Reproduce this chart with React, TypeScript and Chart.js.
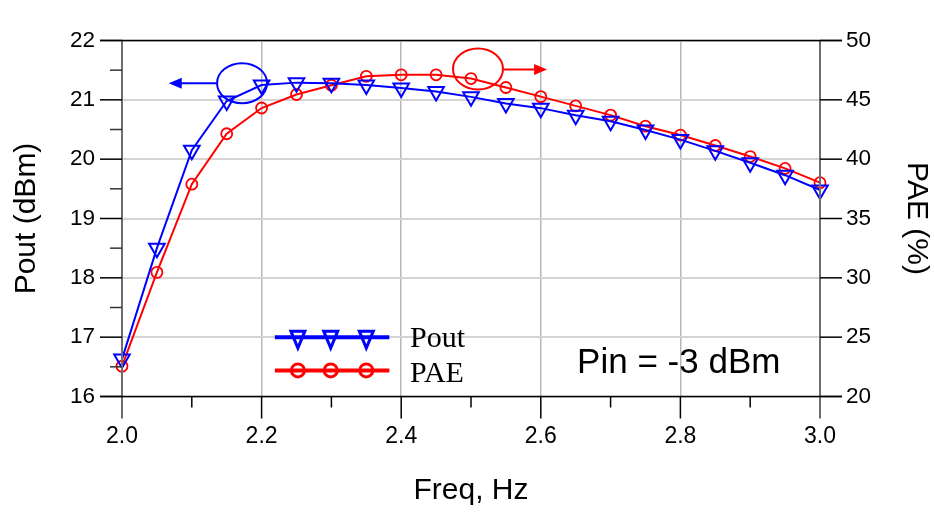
import React, { useEffect, useRef } from 'react';
import { Chart, registerables } from 'chart.js';

Chart.register(...registerables);

const FREQ = [2.0, 2.05, 2.1, 2.15, 2.2, 2.25, 2.3, 2.35, 2.4, 2.45, 2.5, 2.55, 2.6, 2.65, 2.7, 2.75, 2.8, 2.85, 2.9, 2.95, 3.0];
const POUT = [16.63, 18.5, 20.15, 20.98, 21.25, 21.29, 21.28, 21.25, 21.2, 21.14, 21.05, 20.94, 20.86, 20.74, 20.64, 20.49, 20.33, 20.14, 19.94, 19.73, 19.48];
const PAE = [22.55, 30.46, 37.89, 42.14, 44.31, 45.45, 46.23, 46.98, 47.11, 47.11, 46.79, 46.04, 45.27, 44.49, 43.71, 42.78, 42.03, 41.15, 40.22, 39.22, 38.02];

const SANS = '"Liberation Sans", Arial, sans-serif';
const SERIF = '"Liberation Serif", "Times New Roman", serif';

const BLUE = '#0000ff';
const RED = '#ff0000';

// annotation anchors in data coordinates
const ANNOT = {
  blueEllipse: { x: 2.172, y: 21.28, rx: 25, ry: 20 },
  blueArrow: { x0: 2.136, x1: 2.067, y: 21.28 },
  redEllipse: { x: 2.51, y: 47.6, rx: 25, ry: 20.5 },
  redArrow: { x0: 2.546, x1: 2.609, y: 47.56 },
  legend: { x0: 2.219, x1: 2.383, marks: [2.252, 2.299, 2.35], yPout: 17.0, yPae: 16.44, textX: 2.4126, textPout: 16.83, textPae: 16.25 },
  pin: { x: 2.652, y: 16.4, text: 'Pin = -3 dBm' },
};

function line(ctx: CanvasRenderingContext2D, x0: number, y0: number, x1: number, y1: number) {
  ctx.beginPath();
  ctx.moveTo(x0, y0);
  ctx.lineTo(x1, y1);
  ctx.stroke();
}

function arrowHead(ctx: CanvasRenderingContext2D, tipX: number, y: number, dir: number, color: string) {
  ctx.fillStyle = color;
  ctx.beginPath();
  ctx.moveTo(tipX, y);
  ctx.lineTo(tipX - dir * 13, y - 5.5);
  ctx.lineTo(tipX - dir * 13, y + 5.5);
  ctx.closePath();
  ctx.fill();
}

const decorPlugin = {
  id: 'decor',
  afterDraw(chart: any) {
    const { ctx, chartArea, scales } = chart;
    const { left, right, top, bottom } = chartArea;
    const x = scales.x, y = scales.y, y1 = scales.y1;
    ctx.save();
    ctx.lineCap = 'butt';
    // axis lines
    ctx.strokeStyle = '#6e6e6e';
    ctx.lineWidth = 2;
    line(ctx, left, top, left, bottom + 22);
    line(ctx, right, top, right, bottom + 22);
    // borders
    ctx.strokeStyle = '#000';
    ctx.lineWidth = 1.5;
    line(ctx, left - 22, top, right + 22, top);
    line(ctx, left - 22, bottom, right + 22, bottom);
    // left ticks
    for (let v = 16; v <= 22.001; v += 0.5) {
      const py = y.getPixelForValue(v);
      const major = Math.abs(v - Math.round(v)) < 1e-6;
      ctx.strokeStyle = major ? '#000' : '#333';
      line(ctx, left - (major ? 22 : 12), py, left, py);
    }
    // right ticks
    for (let v = 20; v <= 50.001; v += 5) {
      const py = y1.getPixelForValue(v);
      ctx.strokeStyle = '#000';
      line(ctx, right, py, right + 22, py);
    }
    // x ticks
    for (let i = 1; i < 10; i++) {
      const v = 2 + i * 0.1;
      const px = x.getPixelForValue(v);
      const major = i % 2 === 0;
      ctx.strokeStyle = '#000';
      line(ctx, px, bottom, px, bottom + (major ? 22 : 11));
    }

    // annotations
    ctx.lineWidth = 2;
    const be = ANNOT.blueEllipse;
    ctx.strokeStyle = BLUE;
    ctx.beginPath();
    ctx.ellipse(x.getPixelForValue(be.x), y.getPixelForValue(be.y), be.rx, be.ry, 0, 0, Math.PI * 2);
    ctx.stroke();
    const ba = ANNOT.blueArrow;
    const bay = y.getPixelForValue(ba.y);
    line(ctx, x.getPixelForValue(ba.x0), bay, x.getPixelForValue(ba.x1) + 8, bay);
    arrowHead(ctx, x.getPixelForValue(ba.x1), bay, -1, BLUE);

    const re = ANNOT.redEllipse;
    ctx.strokeStyle = RED;
    ctx.beginPath();
    ctx.ellipse(x.getPixelForValue(re.x), y1.getPixelForValue(re.y), re.rx, re.ry, 0, 0, Math.PI * 2);
    ctx.stroke();
    const ra = ANNOT.redArrow;
    const ray = y1.getPixelForValue(ra.y);
    line(ctx, x.getPixelForValue(ra.x0), ray, x.getPixelForValue(ra.x1) - 8, ray);
    arrowHead(ctx, x.getPixelForValue(ra.x1), ray, 1, RED);

    // legend
    const lg = ANNOT.legend;
    const lx0 = x.getPixelForValue(lg.x0), lx1 = x.getPixelForValue(lg.x1);
    const lyP = y.getPixelForValue(lg.yPout), lyA = y.getPixelForValue(lg.yPae);
    ctx.lineWidth = 4;
    ctx.strokeStyle = BLUE;
    line(ctx, lx0, lyP, lx1, lyP);
    ctx.strokeStyle = RED;
    line(ctx, lx0, lyA, lx1, lyA);
    ctx.lineWidth = 3;
    for (const m of lg.marks) {
      const mx = x.getPixelForValue(m);
      ctx.strokeStyle = BLUE;
      ctx.beginPath();
      ctx.moveTo(mx - 7, lyP - 6);
      ctx.lineTo(mx + 7, lyP - 6);
      ctx.lineTo(mx, lyP + 11);
      ctx.closePath();
      ctx.stroke();
      ctx.strokeStyle = RED;
      ctx.beginPath();
      ctx.arc(mx, lyA, 6.5, 0, Math.PI * 2);
      ctx.stroke();
    }
    ctx.fillStyle = '#000';
    ctx.font = `30px ${SERIF}`;
    ctx.textAlign = 'left';
    ctx.textBaseline = 'alphabetic';
    ctx.fillText('Pout', x.getPixelForValue(lg.textX), y.getPixelForValue(lg.textPout));
    ctx.fillText('PAE', x.getPixelForValue(lg.textX), y.getPixelForValue(lg.textPae));

    ctx.font = `35px ${SANS}`;
    ctx.fillText(ANNOT.pin.text, x.getPixelForValue(ANNOT.pin.x), y.getPixelForValue(ANNOT.pin.y));
    ctx.restore();
  },
};

export default function App() {
  const ref = useRef<HTMLCanvasElement | null>(null);
  useEffect(() => {
    if (!ref.current) return;
    const chart = new Chart(ref.current, {
      type: 'line',
      data: {
        datasets: [
          {
            label: 'Pout',
            data: FREQ.map((f, i) => ({ x: f, y: POUT[i] })),
            yAxisID: 'y',
            borderColor: BLUE,
            borderWidth: 2,
            pointStyle: 'triangle',
            rotation: 180,
            pointRadius: 9,
            pointBorderWidth: 2,
            pointBorderColor: BLUE,
            pointBackgroundColor: 'rgba(0,0,0,0)',
            clip: false,
          } as any,
          {
            label: 'PAE',
            data: FREQ.map((f, i) => ({ x: f, y: PAE[i] })),
            yAxisID: 'y1',
            borderColor: RED,
            borderWidth: 2,
            pointStyle: 'circle',
            pointRadius: 5.5,
            pointBorderWidth: 1.8,
            pointBorderColor: RED,
            pointBackgroundColor: 'rgba(0,0,0,0)',
            clip: false,
          } as any,
        ],
      },
      options: {
        animation: false,
        responsive: false,
        maintainAspectRatio: false,
        layout: { padding: { top: 22, left: 0, right: 0, bottom: 0 } },
        plugins: { legend: { display: false }, tooltip: { enabled: false } },
        scales: {
          x: {
            type: 'linear',
            min: 2,
            max: 3,
            ticks: {
              stepSize: 0.2,
              callback: (v: any) => Number(v).toFixed(1),
              font: { family: SANS, size: 23 },
              color: '#000',
              padding: 26,
              maxRotation: 0,
            },
            grid: { color: '#b8b8b8', lineWidth: 1.5, drawTicks: false },
            border: { display: false },
            title: { display: true, text: 'Freq, Hz', font: { family: SANS, size: 30 }, color: '#000', padding: { top: 0, bottom: 3 } },
            afterFit: (s: any) => { s.height = 115.5; },
          },
          y: {
            position: 'left',
            min: 16,
            max: 22,
            ticks: { stepSize: 1, font: { family: SANS, size: 22.5 }, color: '#000', padding: 27 },
            grid: { color: '#d4d4d4', lineWidth: 2, drawTicks: false },
            border: { display: false },
            title: { display: true, text: 'Pout (dBm)', font: { family: SANS, size: 30 }, color: '#000', padding: { top: 9, bottom: 0 } },
            afterFit: (s: any) => { s.width = 122; },
          },
          y1: {
            position: 'right',
            min: 20,
            max: 50,
            ticks: { stepSize: 5, font: { family: SANS, size: 22.5 }, color: '#000', padding: 26 },
            grid: { display: false, drawTicks: false },
            border: { display: false },
            title: { display: true, text: 'PAE (%)', font: { family: SANS, size: 30 }, color: '#000', padding: { top: 0, bottom: 0 } },
            afterFit: (s: any) => { s.width = 114; },
          },
        },
      } as any,
      plugins: [decorPlugin],
    });
    return () => chart.destroy();
  }, []);
  return (
    <div style={{ position: 'fixed', left: 0, top: 0, width: 934, height: 512, background: '#fff' }}>
      <canvas ref={ref} width={934} height={512} style={{ width: 934, height: 512, display: 'block' }} />
    </div>
  );
}
